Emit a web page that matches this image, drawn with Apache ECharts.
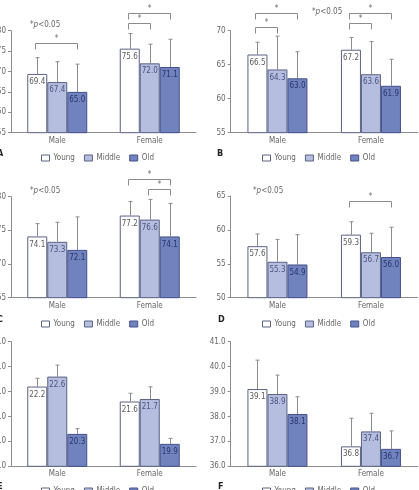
<!DOCTYPE html>
<html>
<head>
<meta charset="utf-8">
<script src="https://cdn.jsdelivr.net/npm/echarts@6/dist/echarts.min.js"></script>
<style>
  html, body { margin: 0; padding: 0; background: #fff; }
  #chart { width: 419px; height: 490px; }
</style>
</head>
<body>
<div id="chart"></div>
<script>
// categories and groups shared by every panel
const categories = ["Male", "Female"];
const groups = ["Young", "Middle", "Old"];

// bar values per group (Young, Middle, Old), each [Male, Female]
const valuesA = [[69.4, 75.6], [67.4, 72.0], [65.0, 71.1]];
const valuesB = [[66.5, 67.2], [64.3, 63.6], [63.0, 61.9]];
const valuesC = [[74.1, 77.2], [73.3, 76.6], [72.1, 74.1]];
const valuesD = [[57.6, 59.3], [55.3, 56.7], [54.9, 56.0]];
const valuesE = [[22.2, 21.6], [22.6, 21.7], [20.3, 19.9]];
const valuesF = [[39.1, 36.8], [38.9, 37.4], [38.1, 36.7]];

// upper end of the error bars, same layout
const whiskerA = [[73.4, 79.3], [72.4, 76.7], [71.8, 77.9]];
const whiskerB = [[68.3, 69.0], [69.2, 68.4], [66.9, 65.8]];
const whiskerC = [[76.0, 79.3], [76.2, 79.6], [77.0, 79.0]];
const whiskerD = [[59.4, 61.2], [58.6, 59.5], [59.3, 60.4]];
const whiskerE = [[22.53, 21.93], [23.06, 22.19], [20.51, 20.12]];
const whiskerF = [[40.26, 37.93], [39.66, 38.13], [38.79, 37.42]];

// y axis: [min, max, interval]
const axisA = [55, 80, 5];
const axisB = [55, 70, 5];
const axisC = [65, 80, 5];
const axisD = [50, 65, 5];
const axisE = [19, 24, 1];
const axisF = [36, 41, 1];

// significance brackets: [category, from group, to group, level]
const bracketsA = [[0, 0, 2, 76.9], [1, 0, 2, 84.4], [1, 0, 1, 81.8]];
const bracketsB = [[0, 0, 2, 72.6], [0, 0, 1, 70.6], [1, 0, 2, 72.6], [1, 0, 1, 71.1]];
const bracketsC = [[1, 0, 2, 82.7], [1, 1, 2, 81.1]];
const bracketsD = [[1, 0, 2, 64.2]];
const bracketsE = [];
const bracketsF = [];

const letters = ["A", "B", "C", "D", "E", "F"];

const FONT = "'Liberation Sans Narrow', 'Arial Narrow', 'DejaVu Sans Condensed', sans-serif";
const BAR_W = 20;
const GRAY = "#8c8c8c";
const fills = ["#ffffff", "#b6bedf", "#7183bf"];
const borders = ["#5a6285", "#5a6285", "#44508a"];
const labelColors = ["#5a5a5a", "#4a5280", "#27346a"];

const panels = [
  { values: valuesA, whisker: whiskerA, axis: axisA, brackets: bracketsA, grid: [11, 30.7, 185, 102], legend: [36, 149], letter: [-3, 154], note: [30, 26], dec: 0 },
  { values: valuesB, whisker: whiskerB, axis: axisB, brackets: bracketsB, grid: [230.7, 30.7, 187, 102], legend: [257, 149], letter: [217, 154], note: [312, 13], dec: 0 },
  { values: valuesC, whisker: whiskerC, axis: axisC, brackets: bracketsC, grid: [11, 196.7, 185, 101], legend: [36, 315], letter: [-3, 320], note: [30, 192], dec: 0 },
  { values: valuesD, whisker: whiskerD, axis: axisD, brackets: bracketsD, grid: [230.7, 196, 187, 101.7], legend: [257, 315], letter: [218, 320], note: [253, 192], dec: 0 },
  { values: valuesE, whisker: whiskerE, axis: axisE, brackets: bracketsE, grid: [11, 341.7, 185, 124.6], legend: [36, 482], letter: [-3, 487], note: null, dec: 1 },
  { values: valuesF, whisker: whiskerF, axis: axisF, brackets: bracketsF, grid: [230.7, 341.7, 187, 124.6], legend: [257, 482], letter: [218, 487], note: null, dec: 1 }
];

function renderWhisker(params, api) {
  const cat = api.value(0), k = api.value(1);
  const base = api.coord([cat, api.value(2)]);
  const top = api.coord([cat, api.value(3)]);
  const x = Math.round(base[0] + (k - 1) * BAR_W) + 0.5;
  const style = { stroke: GRAY, lineWidth: 1 };
  return {
    type: "group",
    children: [
      { type: "line", shape: { x1: x, y1: base[1], x2: x, y2: top[1] }, style: style },
      { type: "line", shape: { x1: x - 2, y1: top[1], x2: x + 2, y2: top[1] }, style: style }
    ]
  };
}

function renderBracket(params, api) {
  const cat = api.value(0);
  const p = api.coord([cat, api.value(3)]);
  const x1 = Math.round(p[0] + (api.value(1) - 1) * BAR_W - 2) + 0.5;
  const x2 = Math.round(p[0] + (api.value(2) - 1) * BAR_W) + 0.5;
  const y = Math.round(p[1]) + 0.5;
  return {
    type: "group",
    children: [
      {
        type: "polyline",
        shape: { points: [[x1, y + 6], [x1, y], [x2, y], [x2, y + 6]] },
        style: { stroke: GRAY, lineWidth: 1, fill: null }
      },
      {
        type: "text",
        style: { x: (x1 + x2) / 2, y: y - 1, text: "*", fill: "#666", font: "8px " + FONT, align: "center", verticalAlign: "bottom" }
      }
    ]
  };
}

const grid = [], xAxis = [], yAxis = [], series = [], legend = [], graphic = [];

panels.forEach((pn, i) => {
  grid.push({ left: pn.grid[0], top: pn.grid[1], width: pn.grid[2], height: pn.grid[3], containLabel: false, outerBoundsMode: "none" });
  xAxis.push({
    type: "category",
    gridIndex: i,
    data: categories,
    axisLine: { lineStyle: { color: GRAY, width: 1 } },
    axisTick: { show: false },
    axisLabel: { color: "#666", fontSize: 8, margin: 4, fontFamily: FONT }
  });
  yAxis.push({
    type: "value",
    gridIndex: i,
    min: pn.axis[0],
    max: pn.axis[1],
    interval: pn.axis[2],
    splitLine: { show: false },
    axisLine: { show: true, lineStyle: { color: GRAY, width: 1 } },
    axisTick: { show: true, length: 3, lineStyle: { color: GRAY } },
    axisLabel: {
      color: "#666", fontSize: 8, margin: 5, fontFamily: FONT,
      formatter: (v) => v.toFixed(pn.dec)
    }
  });
  groups.forEach((g, k) => {
    series.push({
      name: g,
      type: "bar",
      xAxisIndex: i,
      yAxisIndex: i,
      data: pn.values[k],
      barWidth: BAR_W,
      barGap: "0%",
      z: 3,
      itemStyle: { color: fills[k], borderColor: borders[k], borderWidth: 1 },
      label: {
        show: true,
        position: "insideTop",
        distance: 4,
        color: labelColors[k],
        fontSize: 8,
        fontFamily: FONT,
        formatter: (p) => p.value.toFixed(1)
      }
    });
  });
  const whiskerData = [];
  pn.whisker.forEach((arr, k) => {
    arr.forEach((w, c) => whiskerData.push([c, k, pn.values[k][c], w]));
  });
  series.push({
    type: "custom",
    xAxisIndex: i,
    yAxisIndex: i,
    renderItem: renderWhisker,
    encode: { x: 0, y: 3 },
    data: whiskerData,
    z: 2,
    silent: true
  });
  if (pn.brackets.length) {
    series.push({
      type: "custom",
      xAxisIndex: i,
      yAxisIndex: i,
      renderItem: renderBracket,
      encode: { x: 0, y: 3 },
      data: pn.brackets,
      clip: false,
      z: 4,
      silent: true
    });
  }
  legend.push({
    left: pn.legend[0],
    top: pn.legend[1],
    data: groups,
    icon: "rect",
    itemWidth: 8,
    itemHeight: 6,
    itemGap: 9,
    selectedMode: false,
    itemStyle: { borderWidth: 1 },
    textStyle: { color: "#666", fontSize: 8, fontFamily: FONT, width: 30, padding: [0, 0, 0, -1] }
  });
  graphic.push({
    type: "text",
    left: pn.letter[0],
    top: pn.letter[1] - 5,
    style: { text: letters[i], font: "bold 9px " + FONT, fill: "#222" }
  });
  if (pn.note) {
    graphic.push({
      type: "text",
      left: pn.note[0],
      top: pn.note[1] - 5,
      style: {
        text: "{s|*}{i|p}{s|<0.05}",
        rich: {
          s: { fontSize: 8, fontFamily: FONT, fill: "#666", color: "#666" },
          i: { fontSize: 8, fontFamily: FONT, fontStyle: "italic", fill: "#666", color: "#666" }
        }
      }
    });
  }
});

const chart = echarts.init(document.getElementById("chart"));
chart.setOption({
  animation: false,
  textStyle: { fontFamily: FONT },
  grid: grid,
  xAxis: xAxis,
  yAxis: yAxis,
  legend: legend,
  graphic: graphic,
  series: series
});
</script>
</body>
</html>
